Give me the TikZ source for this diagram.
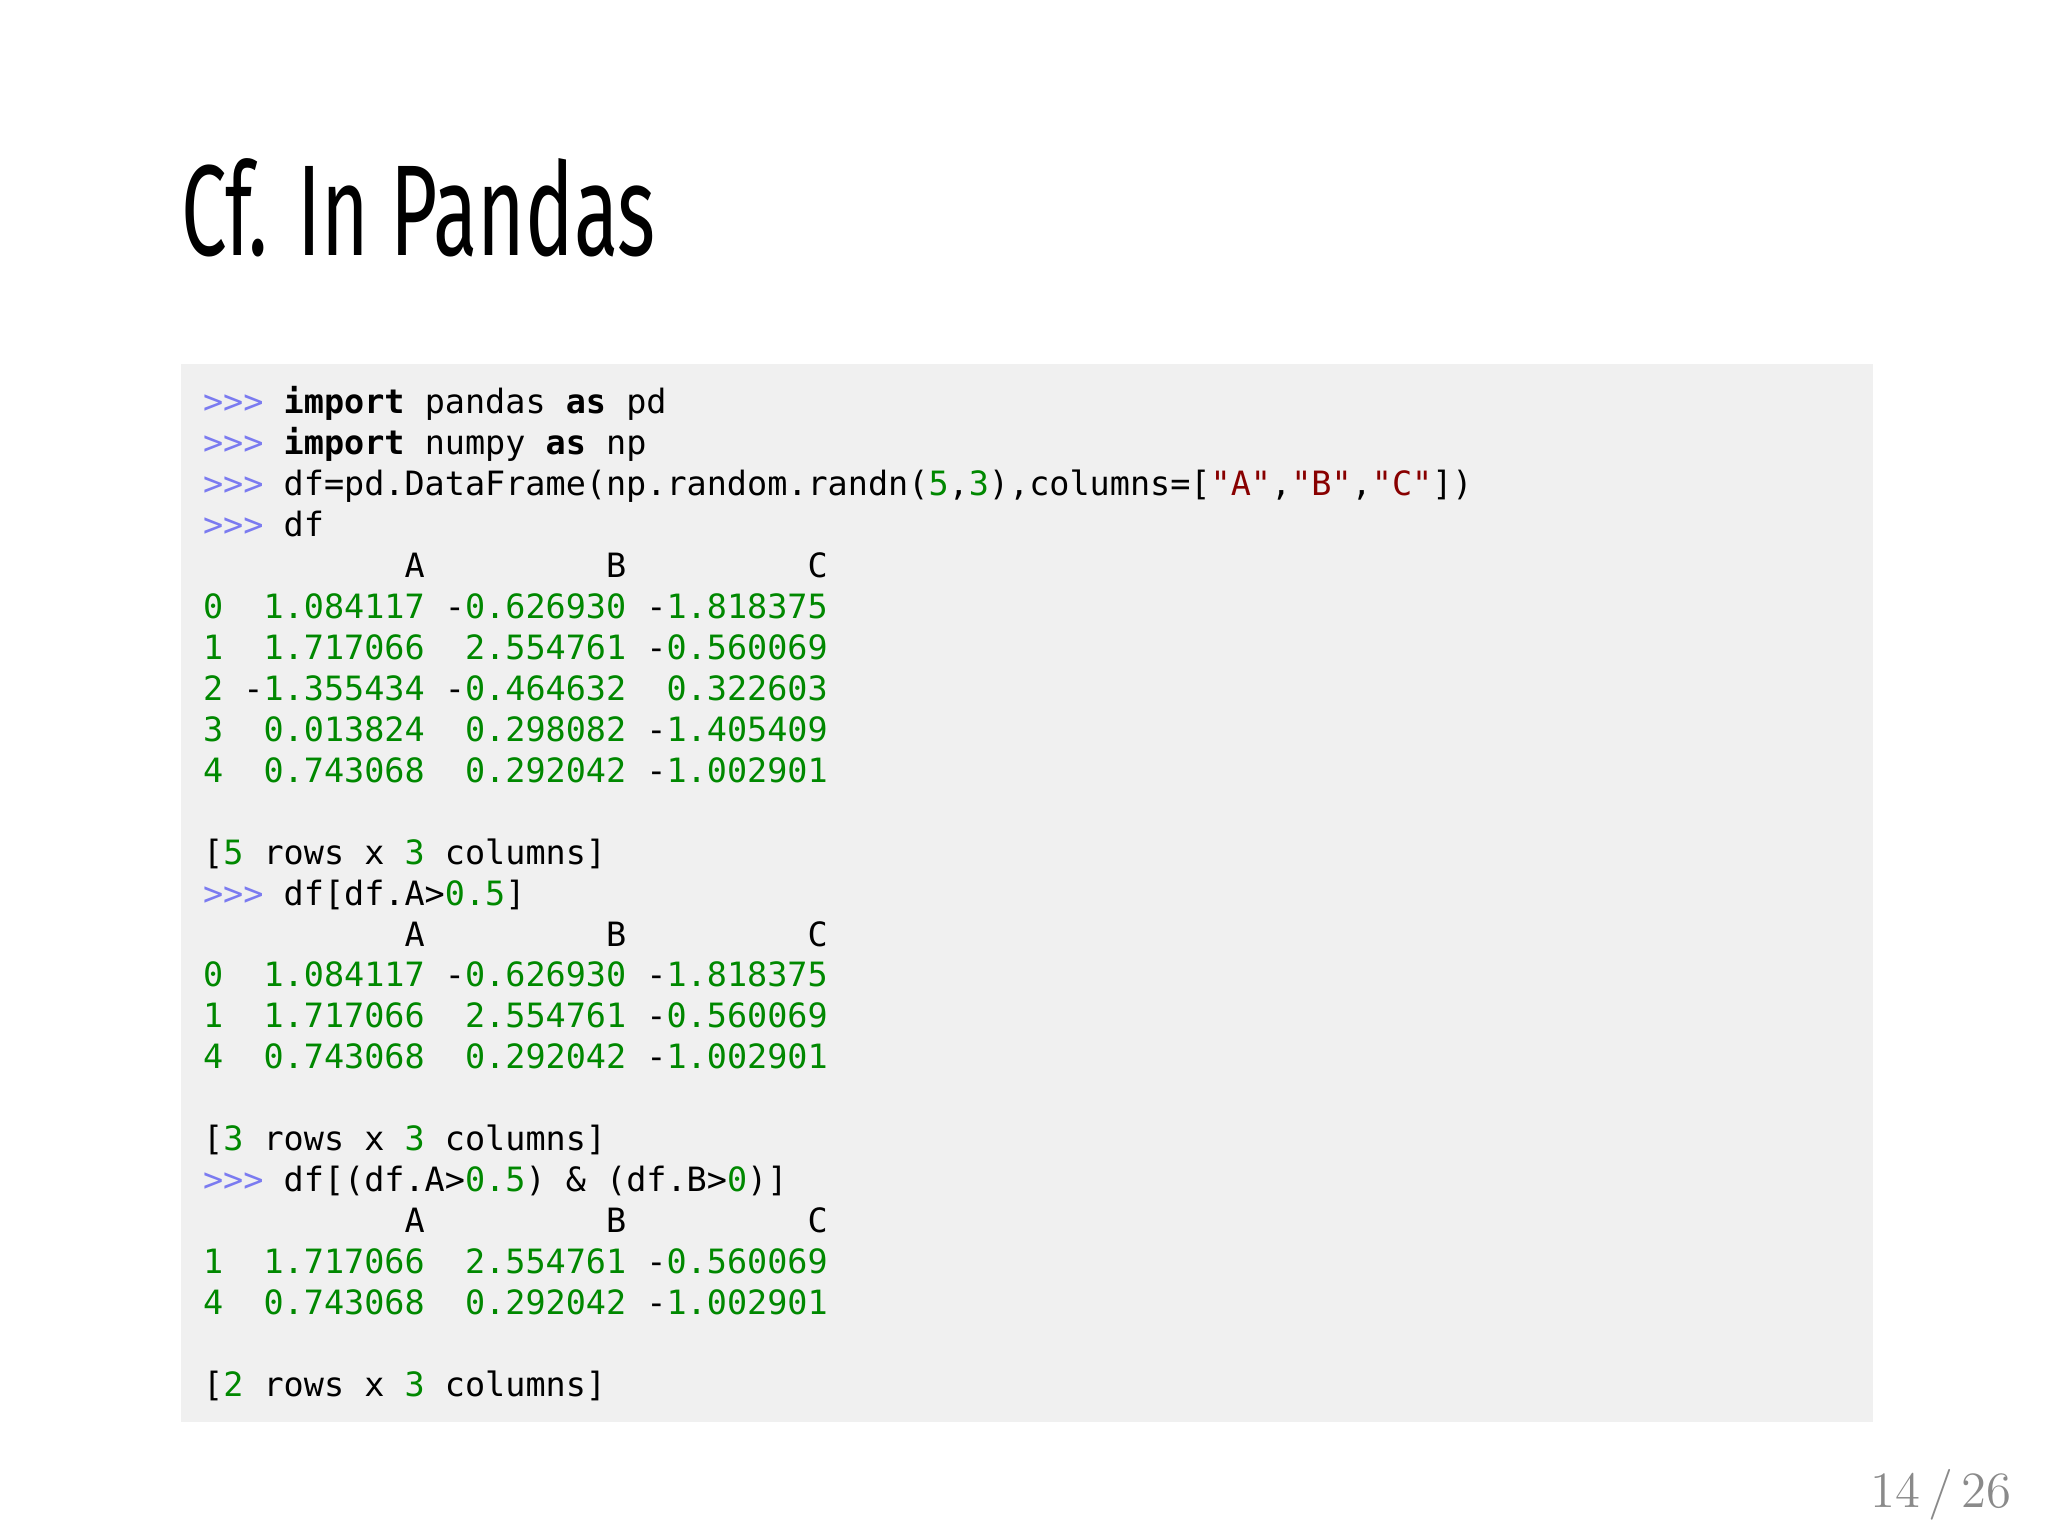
\documentclass[tikz,border=0pt]{standalone}
\usepackage{fontspec}
\setmonofont{DejaVu Sans Mono}
\newfontfamily\titlefont{Fira Sans}
\usetikzlibrary{positioning}
\definecolor{codeBg}{HTML}{F0F0F0}
\definecolor{promptBlue}{HTML}{7B7BF0}
\definecolor{numGreen}{HTML}{008800}
\definecolor{strRed}{HTML}{880000}
\definecolor{pageGray}{HTML}{8A8A8A}
\newcommand{\pr}{\textcolor{promptBlue}{>{}>{}>}~}
\newcommand{\nm}[1]{\textcolor{numGreen}{#1}}
\newcommand{\kw}[1]{\textbf{#1}}
\newcommand{\st}[1]{\textcolor{strRed}{#1}}
\tikzset{
  codeline/.style={anchor=base west, inner sep=0pt, font=\ttfamily\fontsize{7.25}{8}\selectfont}
}
\begin{document}
\begin{tikzpicture}[x=0.01cm, y=0.01cm]
  \useasboundingbox (0,0) rectangle (1560,1170);
  \fill[white] (0,0) rectangle (1560,1170);

  % title
  \node (title) [anchor=base west, inner sep=0pt, xscale=0.63, font=\titlefont\fontsize{28}{30}\selectfont] at (138,975) {Cf. In Pandas};

  % code box
  \fill[codeBg] (138,87) rectangle (1427,893);

  % code lines
  \foreach \txt [count=\i] in {
    {\pr\kw{import} pandas \kw{as} pd},
    {\pr\kw{import} numpy \kw{as} np},
    {\pr df=pd.DataFrame(np.random.randn(\nm{5},\nm{3}),columns=[\st{"A"},\st{"B"},\st{"C"}])},
    {\pr df},
    {~~~~~~~~~~A~~~~~~~~~B~~~~~~~~~C},
    {\nm{0}~~\nm{1.084117}~-\nm{0.626930}~-\nm{1.818375}},
    {\nm{1}~~\nm{1.717066}~~\nm{2.554761}~-\nm{0.560069}},
    {\nm{2}~-\nm{1.355434}~-\nm{0.464632}~~\nm{0.322603}},
    {\nm{3}~~\nm{0.013824}~~\nm{0.298082}~-\nm{1.405409}},
    {\nm{4}~~\nm{0.743068}~~\nm{0.292042}~-\nm{1.002901}},
    {},
    {[\nm{5} rows x \nm{3} columns]},
    {\pr df[df.A>\nm{0.5}]},
    {~~~~~~~~~~A~~~~~~~~~B~~~~~~~~~C},
    {\nm{0}~~\nm{1.084117}~-\nm{0.626930}~-\nm{1.818375}},
    {\nm{1}~~\nm{1.717066}~~\nm{2.554761}~-\nm{0.560069}},
    {\nm{4}~~\nm{0.743068}~~\nm{0.292042}~-\nm{1.002901}},
    {},
    {[\nm{3} rows x \nm{3} columns]},
    {\pr df[(df.A>\nm{0.5})~\&~(df.B>\nm{0})]},
    {~~~~~~~~~~A~~~~~~~~~B~~~~~~~~~C},
    {\nm{1}~~\nm{1.717066}~~\nm{2.554761}~-\nm{0.560069}},
    {\nm{4}~~\nm{0.743068}~~\nm{0.292042}~-\nm{1.002901}},
    {},
    {[\nm{2} rows x \nm{3} columns]}
  }
    \node (l\i) [codeline] at (154,{855-(\i-1)*31.2}) {\strut\txt};

  % page number
  \node (page) [anchor=base east, inner sep=0pt, text=pageGray, font=\fontsize{11}{13}\selectfont] at (1533,22) {14\,/\,26};
\end{tikzpicture}
\end{document}
